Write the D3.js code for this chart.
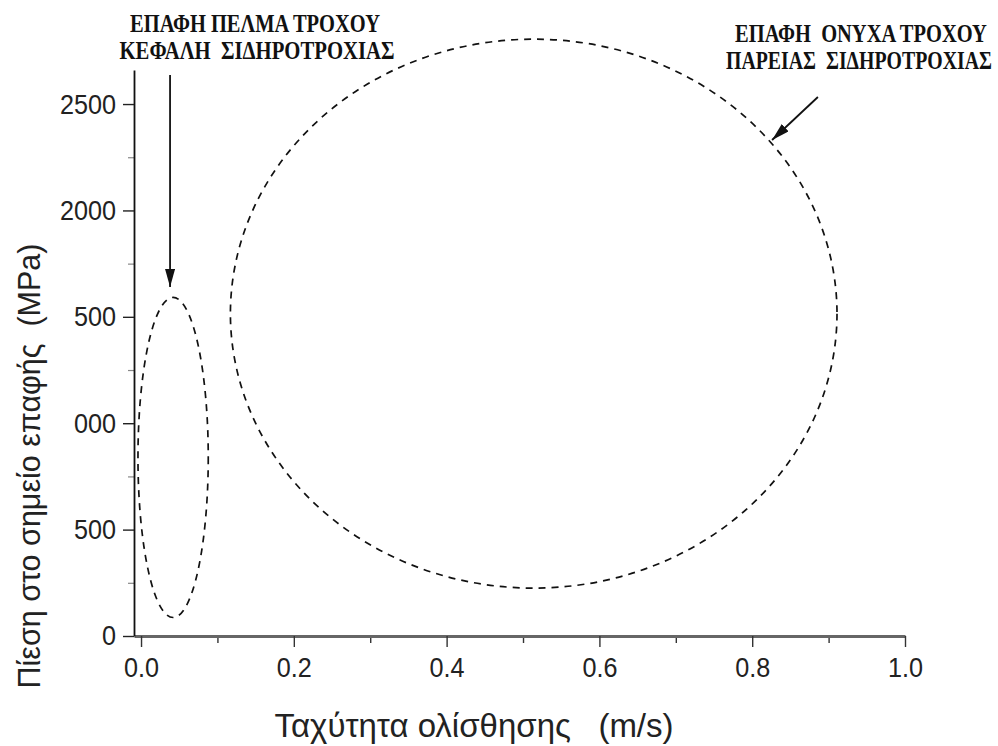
<!DOCTYPE html>
<html>
<head>
<meta charset="utf-8">
<script src="https://cdn.jsdelivr.net/npm/d3@7"></script>
<style>
  body { margin: 0; background: #fff; }
  svg { display: block; }
  .tick text { font-family: "Liberation Sans", Arial, sans-serif; }
</style>
</head>
<body>
<svg id="chart" width="998" height="746"></svg>
<script>
// contact regions (speed in m/s, pressure in MPa)
var regionNames   = ["ΕΠΑΦΗ ΠΕΛΜΑ ΤΡΟΧΟΥ", "ΕΠΑΦΗ ΟΝΥΧΑ ΤΡΟΧΟΥ"];
var centerSpeed    = [0.042, 0.514];
var halfSpeed      = [0.046, 0.397];
var centerPressure = [839, 1515];
var halfPressure   = [752, 1290];

// axis ticks
var xTicks      = [0, 0.2, 0.4, 0.6, 0.8, 1.0];
var xTickLabels = ["0.0", "0.2", "0.4", "0.6", "0.8", "1.0"];
var xMinor      = [0.1, 0.3, 0.5, 0.7, 0.9];
var yTicks      = [0, 500, 1000, 1500, 2000, 2500];
var yTickLabels = ["0", "500", "000", "500", "2000", "2500"]; // as cut off in the scan
var yMinor      = [250, 750, 1250, 1750, 2250];

// annotation arrows [speed, pressure] tail -> tip
var arrowTail = [[0.038, 2636], [0.886, 2533]];
var arrowTip  = [[0.038, 1640], [0.826, 2331]];

var svg = d3.select("#chart");
svg.append("rect").attr("width", 998).attr("height", 746).attr("fill", "#fff");

var x = d3.scaleLinear().domain([-0.0092, 1.0]).range([134, 905]);
var y = d3.scaleLinear().domain([0, 2660]).range([636, 70]);

var narrow = 0.9; // the scan's tick font is a little condensed

var defs = svg.append("defs");
defs.append("marker")
    .attr("id", "head")
    .attr("viewBox", "0 0 18 10")
    .attr("refX", 18).attr("refY", 5)
    .attr("markerWidth", 18).attr("markerHeight", 10)
    .attr("markerUnits", "userSpaceOnUse")
    .attr("orient", "auto")
  .append("path")
    .attr("d", "M0,0 L18,5 L0,10 Z")
    .attr("fill", "#111");

// minor ticks first so the axes sit over them
var xMinorAxis = d3.axisBottom(x).tickValues(xMinor).tickSize(7).tickFormat("");
svg.append("g")
    .attr("transform", "translate(0," + y(0) + ")")
    .call(xMinorAxis)
    .call(function(g) {
      g.select(".domain").remove();
      g.selectAll("line").attr("stroke", "#333").attr("stroke-width", 1.4);
    });

var yMinorAxis = d3.axisLeft(y).tickValues(yMinor).tickSize(6).tickFormat("");
svg.append("g")
    .attr("transform", "translate(" + x.range()[0] + ",0)")
    .call(yMinorAxis)
    .call(function(g) {
      g.select(".domain").remove();
      g.selectAll("line").attr("stroke", "#888").attr("stroke-width", 1.2);
    });

var xAxis = d3.axisBottom(x)
    .tickValues(xTicks)
    .tickSize(11)
    .tickSizeOuter(0)
    .tickPadding(10)
    .tickFormat(function(d, i) { return xTickLabels[i]; });

svg.append("g")
    .attr("transform", "translate(0," + y(0) + ")")
    .call(xAxis)
    .call(function(g) {
      g.select(".domain").attr("stroke", "#666").attr("stroke-width", 3);
      g.selectAll(".tick line").attr("stroke", "#333").attr("stroke-width", 1.4);
      g.selectAll(".tick text")
        .attr("font-size", 28)
        .attr("fill", "#222")
        .attr("transform", "scale(" + narrow + ",1)");
    });

var yAxis = d3.axisLeft(y)
    .tickValues(yTicks)
    .tickSize(11)
    .tickSizeOuter(0)
    .tickPadding(7)
    .tickFormat(function(d, i) { return yTickLabels[i]; });

svg.append("g")
    .attr("transform", "translate(" + x.range()[0] + ",0)")
    .call(yAxis)
    .call(function(g) {
      g.select(".domain").attr("stroke", "#111").attr("stroke-width", 1.8);
      g.selectAll(".tick line").attr("stroke", "#222").attr("stroke-width", 1.4);
      g.selectAll(".tick text")
        .attr("font-size", 28)
        .attr("fill", "#222")
        .attr("x", -18 / narrow)
        .attr("transform", "scale(" + narrow + ",1)");
    });

// the two contact regions as dashed ellipses
svg.append("g").selectAll("ellipse")
    .data(regionNames)
  .enter().append("ellipse")
    .attr("cx", function(d, i) { return x(centerSpeed[i]); })
    .attr("cy", function(d, i) { return y(centerPressure[i]); })
    .attr("rx", function(d, i) { return x(centerSpeed[i] + halfSpeed[i]) - x(centerSpeed[i]); })
    .attr("ry", function(d, i) { return y(centerPressure[i] - halfPressure[i]) - y(centerPressure[i]); })
    .attr("fill", "none")
    .attr("stroke", "#111")
    .attr("stroke-width", 1.7)
    .attr("stroke-dasharray", "7,6");

// arrows
svg.append("g").selectAll("line")
    .data(arrowTail)
  .enter().append("line")
    .attr("x1", function(d) { return x(d[0]); })
    .attr("y1", function(d) { return y(d[1]); })
    .attr("x2", function(d, i) { return x(arrowTip[i][0]); })
    .attr("y2", function(d, i) { return y(arrowTip[i][1]); })
    .attr("stroke", "#111")
    .attr("stroke-width", 1.8)
    .attr("marker-end", "url(#head)");

// annotation labels: condensed bold serif, squeezed to the widths seen in the scan
var notes = [
  { lines: ["ΕΠΑΦΗ ΠΕΛΜΑ ΤΡΟΧΟΥ", "ΚΕΦΑΛΗ  ΣΙΔΗΡΟΤΡΟΧΙΑΣ"], cx: [255, 257], y0: 32, w: [250, 275] },
  { lines: ["ΕΠΑΦΗ  ΟΝΥΧΑ ΤΡΟΧΟΥ", "ΠΑΡΕΙΑΣ  ΣΙΔΗΡΟΤΡΟΧΙΑΣ"], cx: [861, 859], y0: 42, w: [252, 266] }
];
notes.forEach(function(n) {
  n.lines.forEach(function(t, i) {
    var txt = svg.append("text")
      .attr("x", 0)
      .attr("y", 0)
      .attr("text-anchor", "middle")
      .attr("font-family", "'Liberation Serif', 'DejaVu Serif', serif")
      .attr("font-weight", "bold")
      .attr("font-size", 26)
      .attr("fill", "#111")
      .attr("xml:space", "preserve")
      .text(t);
    var natural = txt.node().getComputedTextLength();
    var sx = n.w[i] / natural;
    txt.attr("transform", "translate(" + n.cx[i] + "," + (n.y0 + i * 27) + ") scale(" + sx + ",1)");
  });
});

// axis titles
svg.append("text")
    .attr("x", 474)
    .attr("y", 737)
    .attr("text-anchor", "middle")
    .attr("font-family", "'Liberation Sans', Arial, sans-serif")
    .attr("font-size", 33)
    .attr("fill", "#222")
    .attr("xml:space", "preserve")
    .text("Ταχύτητα ολίσθησης   (m/s)");

svg.append("text")
    .attr("transform", "translate(40,466) rotate(-90)")
    .attr("text-anchor", "middle")
    .attr("font-family", "'Liberation Sans', Arial, sans-serif")
    .attr("font-size", 30.5)
    .attr("fill", "#222")
    .attr("xml:space", "preserve")
    .text("Πίεση στο σημείο επαφής  (MPa)");
</script>
</body>
</html>
